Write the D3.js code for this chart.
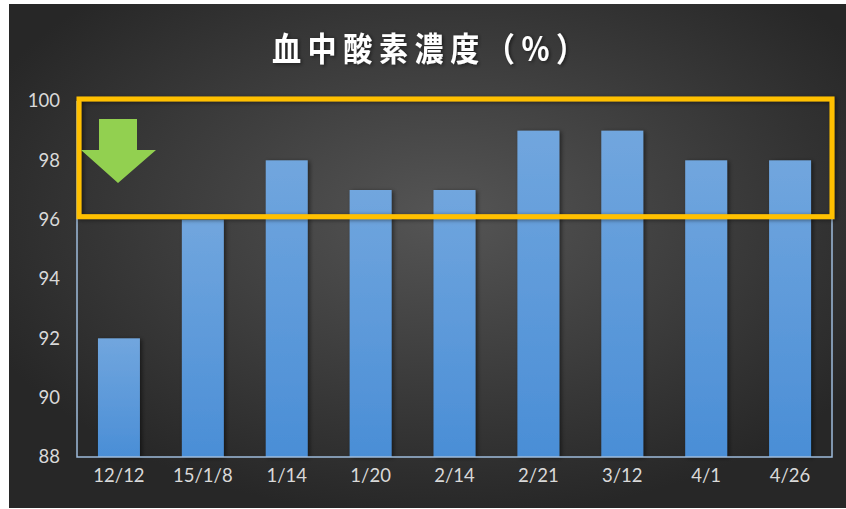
<!DOCTYPE html>
<html>
<head>
<meta charset="utf-8">
<script src="https://cdn.jsdelivr.net/npm/d3@7"></script>
<style>
  body { margin: 0; background: #fff; }
  svg { display: block; }
</style>
</head>
<body>
<svg id="chart" width="846" height="509"></svg>
<script>
var title = '血中酸素濃度（%）';
var dates = ['12/12', '15/1/8', '1/14', '1/20', '2/14', '2/21', '3/12', '4/1', '4/26'];
var values = [92, 96, 98, 97, 97, 99, 99, 98, 98];
var yTicks = [88, 90, 92, 94, 96, 98, 100];
var highlight = [96, 100]; // range marked by the orange box

var svg = d3.select('#chart');
var width = 846;
var height = 509;
var margin = { top: 101, right: 14, bottom: 52, left: 77 };

var defs = svg.append('defs');

var bg = defs.append('radialGradient')
  .attr('id', 'bg')
  .attr('cx', '52%').attr('cy', '42%').attr('r', '60%');
bg.append('stop').attr('offset', '0%').attr('stop-color', '#555555');
bg.append('stop').attr('offset', '100%').attr('stop-color', '#272727');

var barGrad = defs.append('linearGradient')
  .attr('id', 'barGrad')
  .attr('x1', 0).attr('y1', 0).attr('x2', 0).attr('y2', 1);
barGrad.append('stop').attr('offset', '0%').attr('stop-color', '#71a6de');
barGrad.append('stop').attr('offset', '100%').attr('stop-color', '#4a8ed6');

var shadow = defs.append('filter').attr('id', 'shadow')
  .attr('x', '-20%').attr('y', '-20%').attr('width', '140%').attr('height', '140%');
shadow.append('feDropShadow')
  .attr('dx', 2).attr('dy', 1).attr('stdDeviation', 2)
  .attr('flood-color', '#000').attr('flood-opacity', 0.5);

svg.append('rect')
  .attr('x', 9).attr('y', 4)
  .attr('width', width - 9).attr('height', height - 5)
  .attr('fill', 'url(#bg)');

// title (slightly condensed like the original font)
var sx = 0.88;
svg.append('text')
  .attr('transform', `scale(${sx},1)`)
  .attr('x', 272 / sx)
  .attr('y', 61)
  .attr('fill', '#ffffff')
  .style('font-family', '"Noto Sans CJK JP", sans-serif')
  .style('font-size', '33px')
  .style('font-weight', 'bold')
  .style('letter-spacing', '7.5px')
  .attr('filter', 'url(#shadow)')
  .text(title);

var x = d3.scaleBand()
  .domain(dates)
  .range([margin.left, width - margin.right])
  .paddingInner(0.5)
  .paddingOuter(0.25);

var y = d3.scaleLinear()
  .domain([88, 100])
  .range([height - margin.bottom, margin.top]);

// bars
svg.append('g')
  .selectAll('rect')
  .data(values)
  .enter()
  .append('rect')
  .attr('x', (d, i) => x(dates[i]))
  .attr('y', d => y(d))
  .attr('width', x.bandwidth())
  .attr('height', d => y(88) - y(d))
  .attr('fill', 'url(#barGrad)')
  .attr('filter', 'url(#shadow)');

// plot frame
svg.append('path')
  .attr('d', `M${margin.left},${y(100)}V${y(88)}H${width - margin.right}V${y(100)}`)
  .attr('fill', 'none')
  .attr('stroke', '#9fbcdc')
  .attr('stroke-width', 1.5);

// axes
var yAxis = svg.append('g')
  .attr('transform', `translate(${margin.left},0)`)
  .call(d3.axisLeft(y).tickValues(yTicks).tickSize(0).tickPadding(17));

var xAxis = svg.append('g')
  .attr('transform', `translate(0,${y(88)})`)
  .call(d3.axisBottom(x).tickSize(0).tickPadding(12));

[xAxis, yAxis].forEach(function(g) {
  g.select('.domain').remove();
  g.selectAll('text')
    .attr('fill', '#d9d9d9')
    .style('font-family', 'Lato, "Open Sans", sans-serif')
    .style('font-size', '18.5px');
});

// highlight box
svg.append('rect')
  .attr('x', margin.left + 2)
  .attr('y', y(highlight[1]) - 2)
  .attr('width', width - margin.right - margin.left - 2)
  .attr('height', y(highlight[0]) - y(highlight[1]) - 1)
  .attr('fill', 'none')
  .attr('stroke', '#ffc000')
  .attr('stroke-width', 5)
  .attr('filter', 'url(#shadow)');

// down arrow
var arrow = [[99, 119], [137, 119], [137, 150], [156, 150], [118, 183], [81, 150], [99, 150]];
svg.append('polygon')
  .attr('points', arrow.map(p => p.join(',')).join(' '))
  .attr('fill', '#92d050');
</script>
</body>
</html>
